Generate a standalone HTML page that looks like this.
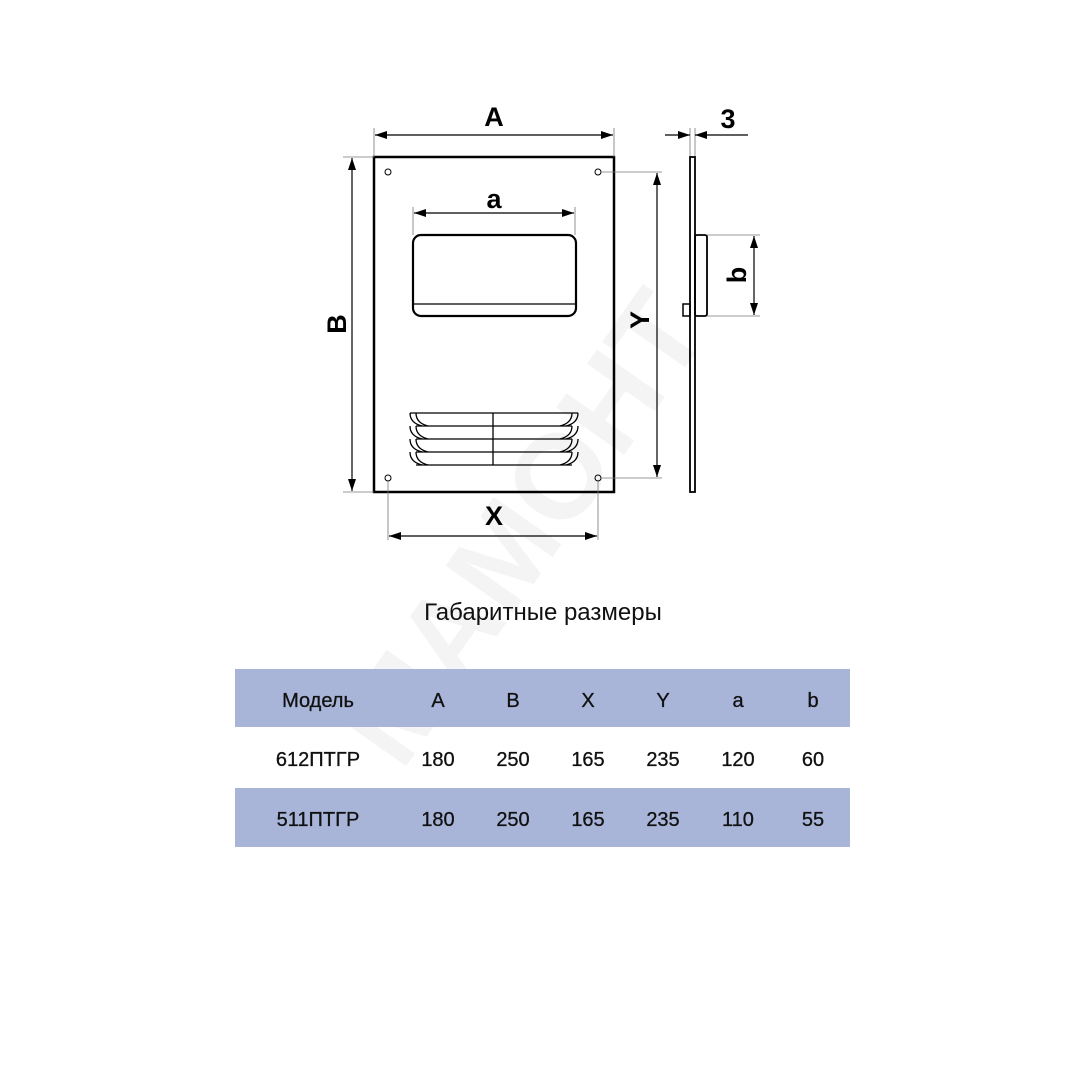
<!DOCTYPE html>
<html><head><meta charset="utf-8"><style>
html,body{margin:0;padding:0;background:#fff;width:1080px;height:1080px;overflow:hidden}
svg{display:block}
</style></head><body>
<svg width="1080" height="1080" viewBox="0 0 1080 1080" xmlns="http://www.w3.org/2000/svg" font-family="Liberation Sans, sans-serif">
<defs>
<marker id="ar" viewBox="0 0 12 8" refX="12" refY="4" markerWidth="12" markerHeight="8" markerUnits="userSpaceOnUse" orient="auto-start-reverse"><path d="M0,0 L12,4 L0,8 Z" fill="#000"/></marker>
</defs>
<text x="540" y="560" font-size="120" font-weight="bold" fill="#f4f4f4" text-anchor="middle" transform="rotate(-55 540 540)">МАМОНТ</text>

<rect x="374" y="157" width="240" height="335" fill="none" stroke="#000" stroke-width="2.5"/>
<g fill="none" stroke="#000" stroke-width="1">
<circle cx="388" cy="172" r="3"/><circle cx="598" cy="172" r="3"/>
<circle cx="388" cy="478" r="3"/><circle cx="598" cy="478" r="3"/>
</g>
<rect x="413" y="235" width="163" height="81" rx="8" fill="none" stroke="#000" stroke-width="2.2"/>
<line x1="414" y1="304" x2="575" y2="304" stroke="#000" stroke-width="1.3"/>
<g fill="none" stroke="#000" stroke-width="1.3">
<path d="M410,413 H578 M416,426 H572 M416,439 H572 M416,452 H572 M416,465 H572"/>
<path d="M410,413 q0,10 12,13 M410,426 q0,10 12,13 M410,439 q0,10 12,13 M410,452 q0,10 12,13"/>
<path d="M416,413 q0,10 12,13 M416,426 q0,10 12,13 M416,439 q0,10 12,13 M416,452 q0,10 12,13"/>
<path d="M578,413 q0,10 -12,13 M578,426 q0,10 -12,13 M578,439 q0,10 -12,13 M578,452 q0,10 -12,13"/>
<path d="M572,413 q0,10 -12,13 M572,426 q0,10 -12,13 M572,439 q0,10 -12,13 M572,452 q0,10 -12,13"/>
<line x1="493" y1="413" x2="493" y2="465"/>
</g>
<g stroke="#777" stroke-width="0.8">
<line x1="374" y1="128" x2="374" y2="157"/><line x1="614" y1="128" x2="614" y2="157"/>
<line x1="343" y1="157" x2="374" y2="157"/><line x1="343" y1="492" x2="374" y2="492"/>
<line x1="601" y1="172" x2="662" y2="172"/><line x1="601" y1="478" x2="662" y2="478"/>
<line x1="388" y1="481" x2="388" y2="540"/><line x1="598" y1="481" x2="598" y2="540"/>
<line x1="413" y1="207" x2="413" y2="235"/><line x1="575" y1="207" x2="575" y2="235"/>
<line x1="707" y1="235" x2="760" y2="235"/><line x1="707" y1="316" x2="760" y2="316"/>
<line x1="690" y1="128" x2="690" y2="157"/><line x1="695" y1="128" x2="695" y2="157"/>
</g>
<g stroke="#000" stroke-width="1.2" marker-start="url(#ar)" marker-end="url(#ar)">
<line x1="375" y1="135" x2="613" y2="135"/>
<line x1="352" y1="158" x2="352" y2="491"/>
<line x1="657" y1="173" x2="657" y2="477"/>
<line x1="389" y1="536" x2="597" y2="536"/>
<line x1="414" y1="213" x2="574" y2="213"/>
<line x1="754" y1="236" x2="754" y2="315"/>
</g>
<g stroke="#000" stroke-width="1.2">
<line x1="665" y1="135" x2="690" y2="135" marker-end="url(#ar)"/>
<line x1="748" y1="135" x2="695" y2="135" marker-end="url(#ar)"/>
</g>
<rect x="690" y="157" width="5" height="335" fill="none" stroke="#000" stroke-width="1.8"/>
<rect x="695" y="235" width="12" height="81" rx="2" fill="none" stroke="#000" stroke-width="1.8"/>
<rect x="683" y="304" width="7" height="12" fill="none" stroke="#000" stroke-width="1.5"/>
<g font-weight="bold" font-size="27" fill="#000" text-anchor="middle">
<text x="494" y="126">A</text>
<text x="494" y="208">a</text>
<text x="494" y="525">X</text>
<text x="728" y="128">3</text>
<text transform="translate(346 324) rotate(-90)">B</text>
<text transform="translate(649 320) rotate(-90)">Y</text>
<text transform="translate(746 275) rotate(-90)">b</text>
</g>
<text x="543" y="620" font-size="24" text-anchor="middle" fill="#111">Габаритные размеры</text>
<rect x="235" y="669" width="615" height="58" fill="#a8b5d9"/>
<rect x="235" y="788" width="615" height="59" fill="#a8b5d9"/>
<g font-size="20" fill="#111" text-anchor="middle" stroke="#111" stroke-width="0.3">
<text x="318" y="707">Модель</text><text x="438" y="707">A</text><text x="513" y="707">B</text><text x="588" y="707">X</text><text x="663" y="707">Y</text><text x="738" y="707">a</text><text x="813" y="707">b</text>
<text x="318" y="766">612ПТГР</text><text x="438" y="766">180</text><text x="513" y="766">250</text><text x="588" y="766">165</text><text x="663" y="766">235</text><text x="738" y="766">120</text><text x="813" y="766">60</text>
<text x="318" y="826">511ПТГР</text><text x="438" y="826">180</text><text x="513" y="826">250</text><text x="588" y="826">165</text><text x="663" y="826">235</text><text x="738" y="826">110</text><text x="813" y="826">55</text>
</g>
</svg>
</body></html>
